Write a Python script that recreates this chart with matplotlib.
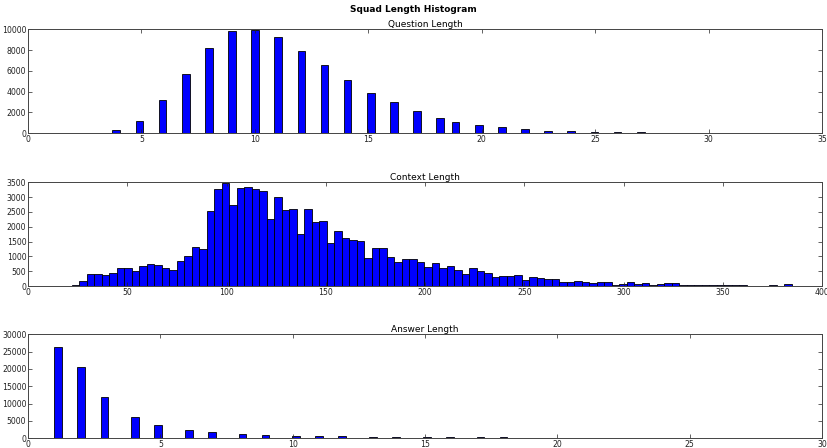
import matplotlib
matplotlib.use("Agg")
import matplotlib.pyplot as plt
import numpy as np

# question length -> number of questions
question_lengths = list(range(1, 36))
question_counts = [30, 0, 0, 320, 1190, 3200, 5740, 8170, 9810, 9970,
                   9230, 7950, 6570, 5100, 3910, 2980, 2150, 1510, 1090, 770,
                   580, 420, 260, 190, 160, 100, 80, 70, 50, 40,
                   0, 30, 20, 0, 0]

# context length histogram, 100 bins between 22 and 400 words
context_min, context_max = 22, 400
context_counts = [45, 160, 390, 400, 370, 430, 600, 600, 520, 690,
                  740, 700, 610, 540, 830, 1000, 1330, 1260, 2520, 3270,
                  3460, 2730, 3320, 3340, 3285, 3220, 2260, 2990, 2550, 2610,
                  1750, 2590, 2150, 2180, 1460, 1840, 1630, 1540, 1520, 930,
                  1290, 1290, 970, 810, 900, 900, 800, 650, 765, 620,
                  660, 540, 405, 600, 520, 450, 315, 326, 326, 380,
                  215, 315, 260, 250, 236, 124, 146, 158, 135, 112,
                  124, 146, 34, 56, 124, 56, 112, 45, 68, 90,
                  112, 45, 45, 45, 34, 45, 34, 45, 45, 34,
                  0, 0, 0, 20, 15, 56, 0, 0, 11, 11]

# answer length -> number of answers
answer_lengths = list(range(1, 31))
answer_counts = [26440, 20670, 11830, 6060, 3750, 2400, 1730, 1250, 960, 770,
                 580, 580, 480, 380, 350, 290, 290, 290, 190, 190,
                 190, 60, 120, 50, 50, 40, 40, 30, 30, 30]

plt.rcParams['font.family'] = 'DejaVu Sans'
fig = plt.figure(figsize=(8.27, 4.48), dpi=100)
fig.suptitle('Squad Length Histogram', fontsize=6.5, fontweight='bold', y=0.978, va='center')

W, H = 827.0, 448.0
boxes = [(28, 29.3, 822, 133.3), (28, 182.3, 822, 286), (28, 334.3, 822, 438.3)]
axes = [fig.add_axes([l / W, 1 - b / H, (r - l) / W, (b - t) / H]) for l, t, r, b in boxes]

ax1, ax2, ax3 = axes
ax1.hist(question_lengths, bins=np.linspace(1, 35, 101), weights=question_counts,
         color='#0000ff', edgecolor='black', linewidth=0.6)
ax1.set_xlim(0, 35)
ax1.set_ylim(0, 10000)
ax1.set_xticks(range(0, 36, 5))
ax1.set_yticks(range(0, 10001, 2000))
ax1.set_title('Question Length', fontsize=6.5, pad=2)

context_edges = np.linspace(context_min, context_max, len(context_counts) + 1)
ax2.hist(context_edges[:-1], bins=context_edges, weights=context_counts,
         color='#0000ff', edgecolor='black', linewidth=0.6)
ax2.set_xlim(0, 400)
ax2.set_ylim(0, 3500)
ax2.set_xticks(range(0, 401, 50))
ax2.set_yticks(range(0, 3501, 500))
ax2.set_title('Context Length', fontsize=6.5, pad=2)

ax3.hist(answer_lengths, bins=np.linspace(1, 30, 101), weights=answer_counts,
         color='#0000ff', edgecolor='black', linewidth=0.6)
ax3.set_xlim(0, 30)
ax3.set_ylim(0, 30000)
ax3.set_xticks(range(0, 31, 5))
ax3.set_yticks(range(0, 30001, 5000))
ax3.set_title('Answer Length', fontsize=6.5, pad=2)

for ax in axes:
    ax.tick_params(direction='in', top=True, right=True, labelsize=5.6,
                   length=3, width=0.5, pad=1.2, colors='#222222')
    for s in ax.spines.values():
        s.set_linewidth(0.7)
        s.set_color('#444444')

fig.savefig('out.png', dpi=100, facecolor='white')
